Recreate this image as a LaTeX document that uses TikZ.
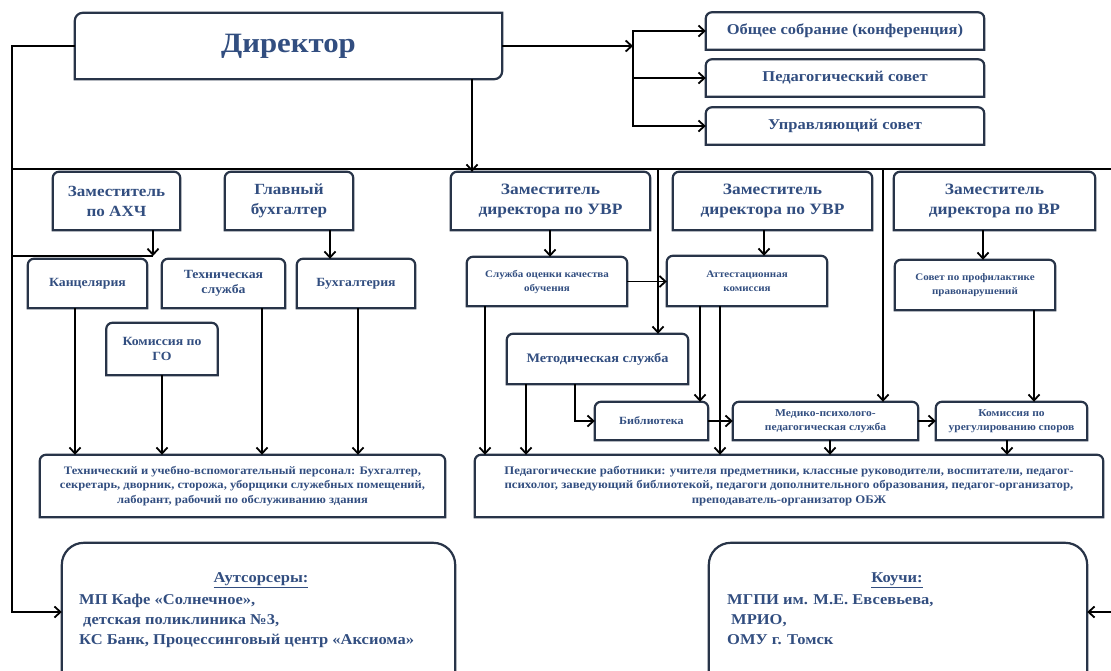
\documentclass[tikz,border=0pt]{standalone}
\usepackage{fontspec}
\setmainfont{Liberation Serif}[FakeStretch=1.1]
\usetikzlibrary{arrows.meta}

\definecolor{txtblue}{RGB}{50,78,128}
\definecolor{frameclr}{RGB}{40,52,72}

\tikzset{
  box/.style={align=center,text=txtblue,inner sep=0pt},
  sz/.style 2 args={minimum width=#1,minimum height=#2},
  fs/.style 2 args={font=\fontsize{#1}{#2}\selectfont\bfseries},
  frame/.style={draw=frameclr,line width=2.2pt},
  conn/.style={line width=1.8pt},
  arr/.style={conn,-{Straight Barb[length=6pt,width=11pt]}},
}

% outline with rounded top corners only
\newcommand{\roundtop}[2][6pt]{%
  \draw[frame] (#2.south) -- (#2.south east) -- (#2.east) [rounded corners=#1]
    -- (#2.north east) -- (#2.north west) -- (#2.west) [sharp corners]
    -- (#2.south west) -- cycle;}

\begin{document}
\begin{tikzpicture}[x=1pt,y=-1pt]
    \useasboundingbox (0,0) rectangle (1111,670);
    \clip (0,0) rectangle (1111,670);

    % top
    \node[box,sz={427}{66},fs={28}{32}] (dir) at (288.5,46) {Директор};
    \node[box,sz={278}{37},fs={15}{18}] (obsh) at (845,31) {Общее собрание (конференция)};
    \node[box,sz={278}{37},fs={15}{18}] (psov) at (845,78) {Педагогический совет};
    \node[box,sz={278}{37},fs={15}{18}] (upr) at (845,126) {Управляющий совет};

    % left branch
    \node[box,sz={127}{58},fs={15.5}{20}] (zahc) at (116.5,201) {Заместитель\\по АХЧ};
    \node[box,sz={128}{58},fs={15.5}{20}] (glav) at (289,201) {Главный\\бухгалтер};
    \node[box,sz={119}{49},fs={12.5}{15}] (kanc) at (87.5,283.5) {Канцелярия};
    \node[box,sz={123}{49},fs={12.5}{15}] (tekh) at (223.5,283.5) {Техническая\\служба};
    \node[box,sz={118}{49},fs={12.5}{15}] (bukh) at (356,283.5) {Бухгалтерия};
    \node[box,sz={111}{52},fs={12.5}{15}] (gokom) at (162,349) {Комиссия по\\ГО};
    \node[box,sz={405}{62},fs={11.4}{14.5}] (tpers) at (242.5,486) {Технический и учебно-вспомогательный персонал: Бухгалтер,\\секретарь, дворник, сторожа, уборщики служебных помещений,\\лаборант, рабочий по обслуживанию здания};

    % right branch
    \node[box,sz={199}{58},fs={15.8}{20}] (zuvr1) at (550.5,201) {Заместитель\\директора по УВР};
    \node[box,sz={199}{58},fs={15.8}{20}] (zuvr2) at (772.5,201) {Заместитель\\директора по УВР};
    \node[box,sz={201}{58},fs={15.8}{20}] (zvr) at (994.5,201) {Заместитель\\директора по ВР};
    \node[box,sz={160}{49},fs={10}{14}] (sluzh) at (547,281.5) {Служба оценки качества\\обучения};
    \node[box,sz={160}{50},fs={10}{14}] (att) at (747,281) {Аттестационная\\комиссия};
    \node[box,sz={160}{50},fs={10}{14}] (sovet) at (975,285) {Совет по профилактике\\правонарушений};
    \node[box,sz={181}{50},fs={13}{16}] (metod) at (597.5,359) {Методическая служба};
    \node[box,sz={113}{38},fs={11}{14}] (bibl) at (651.5,421) {Библиотека};
    \node[box,sz={185}{38},fs={10.5}{14}] (medik) at (825.5,421) {Медико-психолого-\\педагогическая служба};
    \node[box,sz={151}{38},fs={10.5}{14}] (komur) at (1011.5,421) {Комиссия по\\урегулированию споров};
    \node[box,sz={628}{62},fs={11.6}{14.5}] (pedr) at (789,486) {Педагогические работники: учителя предметники, классные руководители, воспитатели, педагог-\\психолог, заведующий библиотекой, педагоги дополнительного образования, педагог-организатор,\\преподаватель-организатор ОБЖ};

    % partners
    \node[box,sz={393}{138}] (outs) at (258.5,612) {};
    \node[box,fs={15}{20}] (outsh) at (261,580) {\underline{Аутсорсеры:}};
    \node[box,fs={15}{20},align=left,anchor=north west] (outsb) at (79,594) {МП Кафе «Солнечное»,\\\hspace*{4pt}детская поликлиника №3,\\КС Банк, Процессинговый центр «Аксиома»};
    \node[box,sz={378}{138}] (kouchi) at (898,612) {};
    \node[box,fs={15}{20}] (kouchih) at (897,580) {\underline{Коучи:}};
    \node[box,fs={15}{20},align=left,anchor=north west] (kouchib) at (727,594) {МГПИ им. М.Е. Евсевьева,\\\hspace*{4pt}МРИО,\\ОМУ г. Томск};

    % outlines
    \draw[frame] (dir.north) [sharp corners] -- (dir.north east) -- (dir.east) [rounded corners=8pt]
      -- (dir.south east) -- (dir.south) [sharp corners] -- (dir.south west) -- (dir.west)
      [rounded corners=8pt] -- (dir.north west) -- cycle;
    \foreach \n in {obsh,psov,upr,zahc,glav,kanc,tekh,bukh,gokom,tpers,zuvr1,zuvr2,zvr,sluzh,att,sovet,metod,bibl,medik,komur,pedr}
      \roundtop{\n};
    \roundtop[22pt]{outs}
    \roundtop[22pt]{kouchi}

    % spine
    \coordinate (busL) at (12,169);
    \coordinate (busR) at (1112,169);
    \coordinate (rb) at (633,46);
    \draw[conn] (busL) -- (busR);
    \draw[arr] (dir.west) -| (busL) |- (outs.west);
    \draw[arr] (busR) |- (kouchi.east);
    \draw[arr] (dir.east) -- (rb);
    \foreach \n in {obsh,psov,upr}
      \draw[arr] (rb) |- (\n.west);
    \draw[arr] ([xshift=183.5pt]dir.south) -- ([xshift=183.5pt]dir.south |- zuvr1.north);

    % left connectors
    \coordinate (b2) at (153,256);
    \draw[conn] (busL |- b2) -- (b2);
    \draw[arr] (zahc.south -| b2) -- (b2);
    \draw[arr] ([xshift=41pt]glav.south) -- ([xshift=41pt]glav.south |- bukh.north);
    \foreach \n/\dx in {kanc/-12.5,gokom/0,tekh/38.5,bukh/2}
      \draw[arr] ([xshift=\dx pt]\n.south) -- ([xshift=\dx pt]\n.south |- tpers.north);

    % right connectors
    \coordinate (m1) at (658,169);
    \coordinate (m2) at (883,169);
    \draw[arr] ([xshift=-0.5pt]zuvr1.south) -- ([xshift=-0.5pt]zuvr1.south |- sluzh.north);
    \draw[arr] ([xshift=-8.5pt]zuvr2.south) -- ([xshift=-8.5pt]zuvr2.south |- att.north);
    \draw[arr] ([xshift=-11.5pt]zvr.south) -- ([xshift=-11.5pt]zvr.south |- sovet.north);
    \draw[arr] (sluzh.east) -- (sluzh.east -| att.west);
    \draw[arr] (m1) -- (m1 |- metod.north);
    \draw[arr] (m2) -- (m2 |- medik.north);
    \draw[arr] ([xshift=-22.5pt]metod.south) |- (bibl.west);
    \draw[arr] ([xshift=-47pt]att.south) -- ([xshift=-47pt]att.south |- bibl.north);
    \draw[arr] (bibl.east) -- (medik.west);
    \draw[arr] (medik.east) -- (komur.west);
    \draw[arr] ([xshift=59pt]sovet.south) -- ([xshift=59pt]sovet.south |- komur.north);
    \foreach \n/\dx in {sluzh/-62,metod/-71.5,att/-27,medik/4.5,komur/-4.5}
      \draw[arr] ([xshift=\dx pt]\n.south) -- ([xshift=\dx pt]\n.south |- pedr.north);
\end{tikzpicture}
\end{document}
